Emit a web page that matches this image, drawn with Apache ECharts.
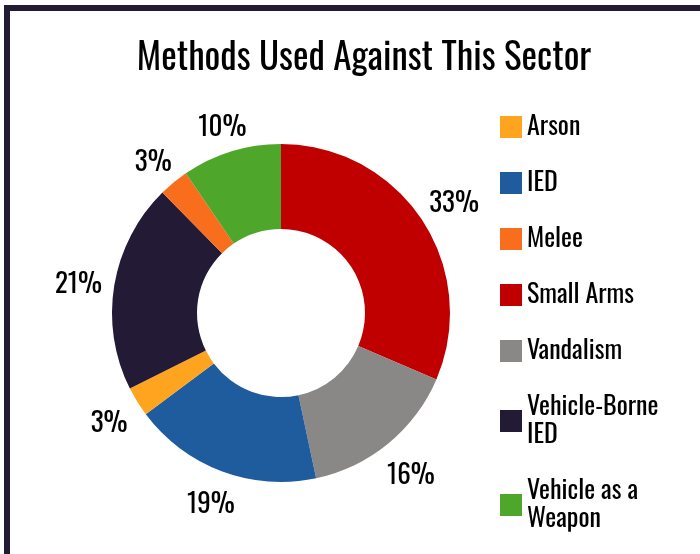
<!DOCTYPE html>
<html>
<head>
<meta charset="utf-8">
<title>Methods Used Against This Sector</title>
<script src="https://cdn.jsdelivr.net/npm/echarts@6/dist/echarts.min.js"></script>
<style>
  html, body { margin: 0; padding: 0; background: #ffffff; }
  #wrap { position: relative; width: 700px; height: 554px; overflow: hidden; }
  #frame {
    position: absolute; left: 4px; top: 5px; right: -10px; bottom: -10px;
    border-left: 6px solid #231a33; border-top: 6px solid #231a33;
  }
  #chart { position: absolute; left: 0; top: 0; width: 700px; height: 554px; }
</style>
</head>
<body>
<div id="wrap">
  <div id="frame"></div>
  <div id="chart"></div>
</div>
<script>
// Share of incidents by method (percent), in drawing order clockwise from 12 o'clock
const methods = ['Small Arms', 'Vandalism', 'IED', 'Arson', 'Vehicle-Borne IED', 'Melee', 'Vehicle as a Weapon'];
const shares = [33, 16, 19, 3, 21, 3, 10];
const colors = ['#c00000', '#8a8886', '#1f5c9e', '#ffa41f', '#231a35', '#f86e1d', '#4ea72a'];

// Legend entries, alphabetical
const legendOrder = ['Arson', 'IED', 'Melee', 'Small Arms', 'Vandalism', 'Vehicle-Borne IED', 'Vehicle as a Weapon'];
const legendWrapped = {
  'Vehicle-Borne IED': 'Vehicle-Borne\nIED',
  'Vehicle as a Weapon': 'Vehicle as a\nWeapon'
};

const FONT = 'Oswald, "Roboto Condensed", "DejaVu Sans Condensed", sans-serif';
const CENTER = [281, 313];
const R_IN = 84, R_OUT = 169;

const chart = echarts.init(document.getElementById('chart'), null, { renderer: 'canvas' });

const total = shares.reduce((a, b) => a + b, 0);
// mid-angle of each slice (radians, clockwise from the top)
const midAngles = [];
{
  let acc = 0;
  shares.forEach(v => {
    midAngles.push(((acc + v / 2) / total) * Math.PI * 2);
    acc += v;
  });
}

chart.setOption({
  backgroundColor: 'transparent',
  animation: false,
  title: {
    text: 'Methods Used Against This Sector',
    left: 359,
    top: 35,
    textAlign: 'center',
    textStyle: { fontFamily: FONT, fontSize: 37, fontWeight: 'normal', color: '#000000' }
  },
  legend: {
    orient: 'vertical',
    left: 500,
    top: 113,
    height: 440,
    padding: 0,
    data: legendOrder,
    icon: 'rect',
    itemWidth: 22,
    itemHeight: 22,
    itemGap: 28,
    selectedMode: false,
    formatter: name => legendWrapped[name] || name,
    textStyle: { fontFamily: FONT, fontSize: 26, lineHeight: 28, color: '#000000' }
  },
  series: [{
    type: 'pie',
    center: CENTER,
    radius: [R_IN, R_OUT],
    startAngle: 90,
    clockwise: true,
    avoidLabelOverlap: false,
    silent: true,
    data: methods.map((m, i) => ({ name: m, value: shares[i], itemStyle: { color: colors[i] } })),
    label: {
      show: true,
      position: 'outside',
      formatter: '{c}%',
      fontFamily: FONT,
      fontSize: 27,
      color: '#000000'
    },
    labelLine: { show: false },
    labelLayout: params => {
      const a = midAngles[params.dataIndex];
      const s = Math.sin(a), c = Math.cos(a);
      const w = params.labelRect.width;
      const r = R_OUT + 11 + Math.abs(s) * w / 2 + Math.abs(c) * 12;
      return {
        x: CENTER[0] + r * s,
        y: CENTER[1] - r * c + 5,
        align: 'center',
        verticalAlign: 'middle'
      };
    }
  }]
});
</script>
</body>
</html>
